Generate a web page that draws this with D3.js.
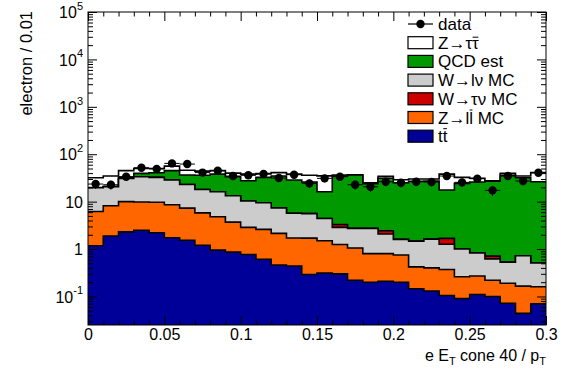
<!DOCTYPE html>
<html><head><meta charset="utf-8">
<script src="https://cdn.jsdelivr.net/npm/d3@7"></script>
<style>
html,body{margin:0;padding:0;background:#fff;}
text{font-family:"Liberation Sans",Arial,Helvetica,sans-serif;}
</style></head>
<body><svg id="c" width="571" height="378"></svg>
<script>
// ---- data (events per 0.01 bin, 30 bins from 0 to 0.3) ----
const binEdges0 = [0,0.01,0.02,0.03,0.04,0.05,0.06,0.07,0.08,0.09,0.10,0.11,0.12,0.13,0.14,0.15,0.16,0.17,0.18,0.19,0.20,0.21,0.22,0.23,0.24,0.25,0.26,0.27,0.28,0.29];
const binWidth = 0.01;
const ttbar = [1.17,1.88,2.3,2.5,2.2,1.73,1.53,1.2,0.95,0.86,0.77,0.61,0.46,0.44,0.29,0.31,0.30,0.22,0.2,0.21,0.2,0.145,0.13,0.105,0.09,0.11,0.1,0.072,0.044,0.07];
const zll   = [5.03,6.32,7.7,7.3,7.5,6.87,5.77,4.6,3.85,2.84,2.1,1.99,1.68,1.27,1.41,1.19,0.95,0.83,0.6,0.59,0.55,0.275,0.27,0.265,0.17,0.16,0.12,0.118,0.121,0.09];
const wlnu  = [13.4,12.4,21,23.7,22.8,20,15.7,12.2,11.4,9.6,7.43,6.9,5.26,4.0,3.9,2.9,1.62,1.68,1.93,1.27,0.85,1.05,1.22,0.89,0.74,0.56,0.40,0.34,0.555,0.35];
const wtaunu= [0,0,0,0,0,0,0,0,0,0,0,0,0,0,0,0,0.43,0,0,0.36,0,0,0,0.42,0,0,0.09,0,0,0];
const qcd   = [0.2,0.4,2,6,8.2,16.4,13.5,18,21.8,20.2,17.3,23,27.3,22.9,20.4,11.8,31.4,33.8,21.3,28.6,23.4,25.5,25.4,15.9,23.3,25.2,26.3,35.5,31.3,25.8];
const ztautau=[12.2,13.7,12,10.5,9.3,11,9.5,8,7,6.5,10.4,6.5,6.3,9.4,10,18.8,1.8,0.5,1,3,4,3,3,20.4,8.2,5,0.6,3.5,2.7,14.7];
const dataCounts = [23.5,22.7,33.5,52,49,64,62,41,44.9,34.7,35.9,38.2,31.5,37,24.3,31,33.5,22.7,20.6,26.3,25,26.3,25.9,34.7,25.5,30.4,17.3,34.7,27.2,40.7];
const xTickLabels = ["0","0.05","0.1","0.15","0.2","0.25","0.3"];
const yDecades = [0.1,1,10,100,1000,10000,100000];
const seriesKeys = ["tt","zll","wlnu","wtaunu","qcd","ztautau"];
// label text, and index of the character that carries an overbar (-1 = none)
const seriesNames = {data:"data",ztautau:"Z\u2192\u03c4\u03c4",qcd:"QCD est",wlnu:"W\u2192l\u03bd MC",wtaunu:"W\u2192\u03c4\u03bd MC",zll:"Z\u2192ll MC",tt:"tt"};
const overbarChar = {ztautau:3,zll:3,tt:1};
const colors = {tt:"#000099",zll:"#ff6600",wlnu:"#cccccc",wtaunu:"#cc0000",qcd:"#009900",ztautau:"#ffffff"};
const legendOrder = ["ztautau","qcd","wlnu","wtaunu","zll","tt"];

// ---- layout ----
const L=88,R=546,T=12,B=325;
const svg=d3.select("#c");
const x=d3.scaleLinear().domain([0,0.3]).range([L,R]);
const y=d3.scaleLog().domain([0.025,1e5]).range([B,T]).clamp(true);

const rows=binEdges0.map((e,i)=>({x0:e,tt:ttbar[i],zll:zll[i],wlnu:wlnu[i],wtaunu:wtaunu[i],qcd:qcd[i],ztautau:ztautau[i]}));
const stacked=d3.stack().keys(seriesKeys)(rows);

svg.append("clipPath").attr("id","pc").append("rect").attr("x",L).attr("y",T).attr("width",R-L).attr("height",B-T);
const plot=svg.append("g").attr("clip-path","url(#pc)");

function stepPts(layer){
  const pts=[];
  layer.forEach(d=>{pts.push([d.data.x0,d[1]]);pts.push([d.data.x0+binWidth,d[1]]);});
  return pts;
}
const area=d3.area().x(d=>x(d[0])).y0(B).y1(d=>y(Math.max(d[1],1e-6)));
const line=d3.line().x(d=>x(d[0])).y(d=>y(Math.max(d[1],1e-6)));
for(let k=stacked.length-1;k>=0;k--){
  const layer=stacked[k];
  const pts=stepPts(layer);
  plot.append("path").attr("d",area(pts)).attr("fill",colors[layer.key]).attr("stroke","none");
  plot.append("path").attr("d",line(pts)).attr("fill","none").attr("stroke","#000").attr("stroke-width",1.6);
}

// data points
const dg=plot.append("g");
dataCounts.forEach((v,i)=>{
  const cx=x(binEdges0[i]+binWidth/2), cy=y(v), e=Math.sqrt(v);
  dg.append("line").attr("x1",x(binEdges0[i])).attr("x2",x(binEdges0[i]+binWidth)).attr("y1",cy).attr("y2",cy).attr("stroke","#000").attr("stroke-width",1);
  dg.append("line").attr("x1",cx).attr("x2",cx).attr("y1",y(v+e)).attr("y2",y(Math.max(v-e,0.03))).attr("stroke","#000").attr("stroke-width",1);
  dg.append("circle").attr("cx",cx).attr("cy",cy).attr("r",4.2).attr("fill","#000");
});

// ---- axes ----
const xMajor=d3.range(0,0.3001,0.05), xMinor=d3.range(0,0.3001,0.01).filter(v=>Math.abs(v/0.05-Math.round(v/0.05))>1e-6);
const yMinor=[];
for(let d=0.01;d<1e5;d*=10){for(let m=2;m<=9;m++){const v=m*d; if(v>=0.025&&v<=1e5) yMinor.push(v);}}
function axisStyle(g){g.select(".domain").remove();g.selectAll("line").attr("stroke","#000").attr("stroke-width",1);}
svg.append("g").attr("transform",`translate(0,${B})`).call(d3.axisBottom(x).tickValues(xMajor).tickSize(-9).tickPadding(3).tickFormat((d,i)=>xTickLabels[i])).call(axisStyle)
  .selectAll("text").attr("font-size",16).attr("fill","#000").attr("dy","0.75em");
svg.append("g").attr("transform",`translate(0,${B})`).call(d3.axisBottom(x).tickValues(xMinor).tickSize(-4.5).tickFormat("")).call(axisStyle);
svg.append("g").attr("transform",`translate(0,${T})`).call(d3.axisTop(x).tickValues(xMajor).tickSize(-9).tickFormat("")).call(axisStyle);
svg.append("g").attr("transform",`translate(0,${T})`).call(d3.axisTop(x).tickValues(xMinor).tickSize(-4.5).tickFormat("")).call(axisStyle);
const yl=svg.append("g").attr("transform",`translate(${L},0)`).call(d3.axisLeft(y).tickValues(yDecades).tickSize(-9).tickFormat("")).call(axisStyle);
svg.append("g").attr("transform",`translate(${L},0)`).call(d3.axisLeft(y).tickValues(yMinor).tickSize(-5).tickFormat("")).call(axisStyle);
svg.append("g").attr("transform",`translate(${R},0)`).call(d3.axisRight(y).tickValues(yDecades).tickSize(-9).tickFormat("")).call(axisStyle);
svg.append("g").attr("transform",`translate(${R},0)`).call(d3.axisRight(y).tickValues(yMinor).tickSize(-5).tickFormat("")).call(axisStyle);
yl.selectAll(".tick").each(function(d){
  const t=d3.select(this).append("text").attr("x",-5).attr("y",0).attr("dy","0.35em").attr("text-anchor","end").attr("font-size",16).attr("fill","#000");
  const ex=Math.round(Math.log10(d));
  if(ex===0) t.text("1");
  else if(ex===1) t.text("10");
  else {t.append("tspan").text("10");t.append("tspan").attr("font-size",11).attr("dy","-0.75em").text(String(ex));}
});
svg.append("rect").attr("x",L).attr("y",T).attr("width",R-L).attr("height",B-T).attr("fill","none").attr("stroke","#000").attr("stroke-width",1);

// titles
const xt=svg.append("text").attr("x",R).attr("y",361).attr("text-anchor","end").attr("font-size",16).attr("fill","#000");
xt.append("tspan").text("e E");
xt.append("tspan").attr("font-size",11).attr("dy",4).text("T");
xt.append("tspan").attr("dy",-4).text(" cone 40 / p");
xt.append("tspan").attr("font-size",11).attr("dy",4).text("T");
svg.append("text").attr("transform","translate(32,11) rotate(-90)").attr("text-anchor","end").attr("font-size",16.5).attr("fill","#000").text("electron / 0.01");

// legend
const lg=svg.append("g");
const ly0=24, ldy=18.7, lbx=408, lbw=25, lbh=12, ltx=438, lfs=17;
lg.append("line").attr("x1",lbx).attr("x2",lbx+lbw).attr("y1",ly0).attr("y2",ly0).attr("stroke","#000").attr("stroke-width",1.2);
lg.append("circle").attr("cx",lbx+lbw/2).attr("cy",ly0).attr("r",4.2).attr("fill","#000");
lg.append("text").attr("x",ltx).attr("y",ly0+6).attr("font-size",lfs).text(seriesNames.data);
legendOrder.forEach((k,i)=>{
  const yy=ly0+ldy*(i+1);
  lg.append("rect").attr("x",lbx).attr("y",yy-lbh/2).attr("width",lbw).attr("height",lbh).attr("fill",colors[k]).attr("stroke","#000").attr("stroke-width",1.2);
  const t=lg.append("text").attr("x",ltx).attr("y",yy+6).attr("font-size",lfs).text(seriesNames[k]);
  if(overbarChar[k]!==undefined){
    const node=t.node(), ci=overbarChar[k];
    const s=node.getStartPositionOfChar(ci), e=node.getEndPositionOfChar(ci);
    const ch=seriesNames[k][ci];
    const by=yy+6-(ch==="\u03c4"?11.5:13.5);
    lg.append("line").attr("x1",s.x+0.5).attr("x2",e.x-0.5).attr("y1",by).attr("y2",by).attr("stroke","#000").attr("stroke-width",1);
  }
});
</script></body></html>
